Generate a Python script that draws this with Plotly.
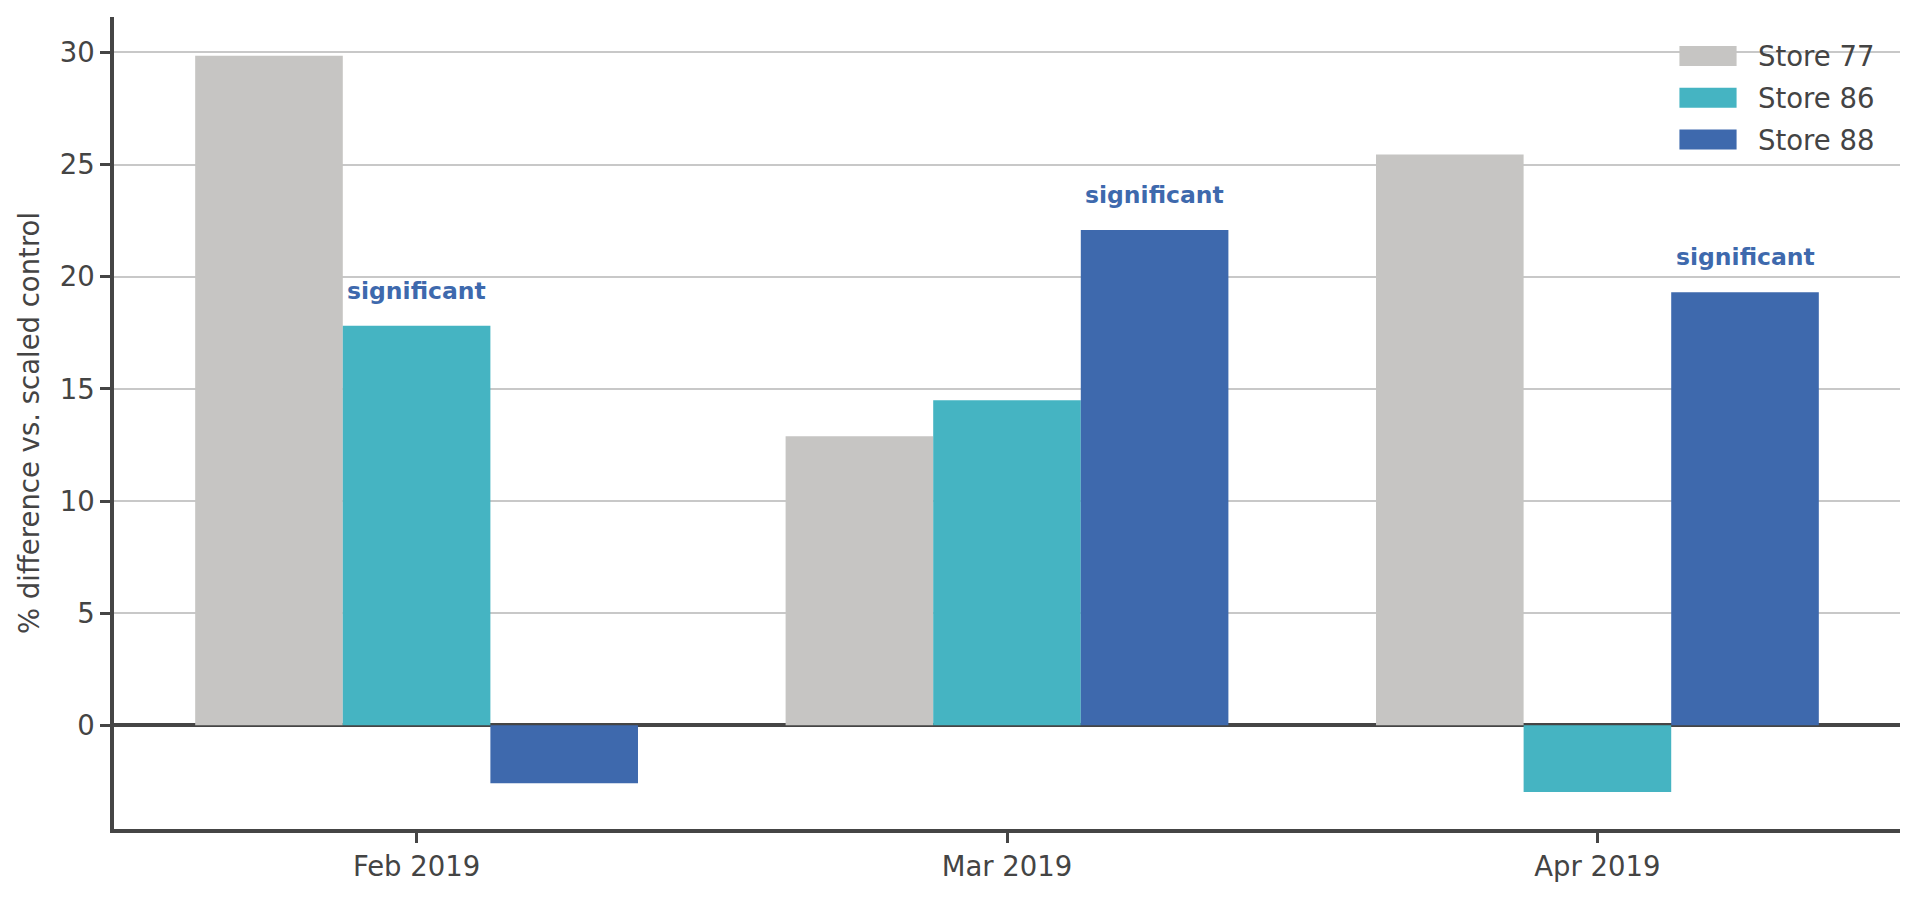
import plotly.graph_objects as go

months = ["Feb 2019", "Mar 2019", "Apr 2019"]
stores = ["Store 77", "Store 86", "Store 88"]
store77 = [29.85, 12.89, 25.45]
store86 = [17.82, 14.49, -2.97]
store88 = [-2.58, 22.08, 19.31]
colors = ["#c6c5c3", "#45b4c2", "#3e69ad"]
significant = [("Feb 2019", "Store 86"), ("Mar 2019", "Store 88"), ("Apr 2019", "Store 88")]

values = {"Store 77": store77, "Store 86": store86, "Store 88": store88}

TXT = "#444444"
FONT = "DejaVu Sans"

fig = go.Figure()
for s, c in zip(stores, colors):
    fig.add_trace(go.Bar(x=months, y=values[s], name=s, marker_color=c,
                         marker_line_width=0, showlegend=False))

# significance labels
offsets = {"Store 77": -0.25, "Store 86": 0.0, "Store 88": 0.25}
for m, s in significant:
    i = months.index(m)
    v = values[s][i]
    fig.add_annotation(x=i + offsets[s], y=v, xref="x", yref="y",
                       text="<b>significant</b>", showarrow=False,
                       yanchor="bottom", yshift=19,
                       font=dict(family=FONT, size=23.5, color="#3e69ad"))

# custom legend (rectangular swatches like the reference)
leg_y = [0.952, 0.9006, 0.849]
for s, c, yy in zip(stores, colors, leg_y):
    fig.add_shape(type="rect", xref="paper", yref="paper",
                  x0=0.8765, x1=0.9085, y0=yy - 0.0123, y1=yy + 0.0123,
                  fillcolor=c, line_width=0, layer="above")
    fig.add_annotation(xref="paper", yref="paper", x=0.9195, y=yy,
                       xanchor="left", yanchor="middle", text=s, showarrow=False,
                       font=dict(family=FONT, size=27.5, color=TXT))

# page body has an 8px margin: size the figure to fit the 1920x899 window
fig.update_layout(
    width=1904, height=883,
    margin=dict(l=106, r=12, t=9, b=59),
    paper_bgcolor="white", plot_bgcolor="white",
    barmode="group", bargap=0.25, bargroupgap=0,
    font=dict(family=FONT, size=27, color=TXT),
)
fig.update_xaxes(
    type="category", range=[-0.5125, 2.5125],
    showline=True, linecolor="#454545", linewidth=3.5,
    ticks="outside", ticklen=10, tickwidth=2.5, tickcolor="#454545",
    showgrid=False, tickfont=dict(family=FONT, size=27.5, color=TXT),
)
fig.update_yaxes(
    range=[-4.62, 31.58], tickvals=[0, 5, 10, 15, 20, 25, 30],
    showline=True, linecolor="#454545", linewidth=3.5,
    ticks="outside", ticklen=10, tickwidth=2.5, tickcolor="#454545",
    showgrid=True, gridcolor="#c8c8c8", gridwidth=1.8,
    zeroline=True, zerolinecolor="#454545", zerolinewidth=3.5,
    tickfont=dict(family=FONT, size=27.5, color=TXT),
    title=dict(text="% difference vs. scaled control",
               font=dict(family=FONT, size=27.5, color=TXT), standoff=13),
)

fig.write_html("out.html")
